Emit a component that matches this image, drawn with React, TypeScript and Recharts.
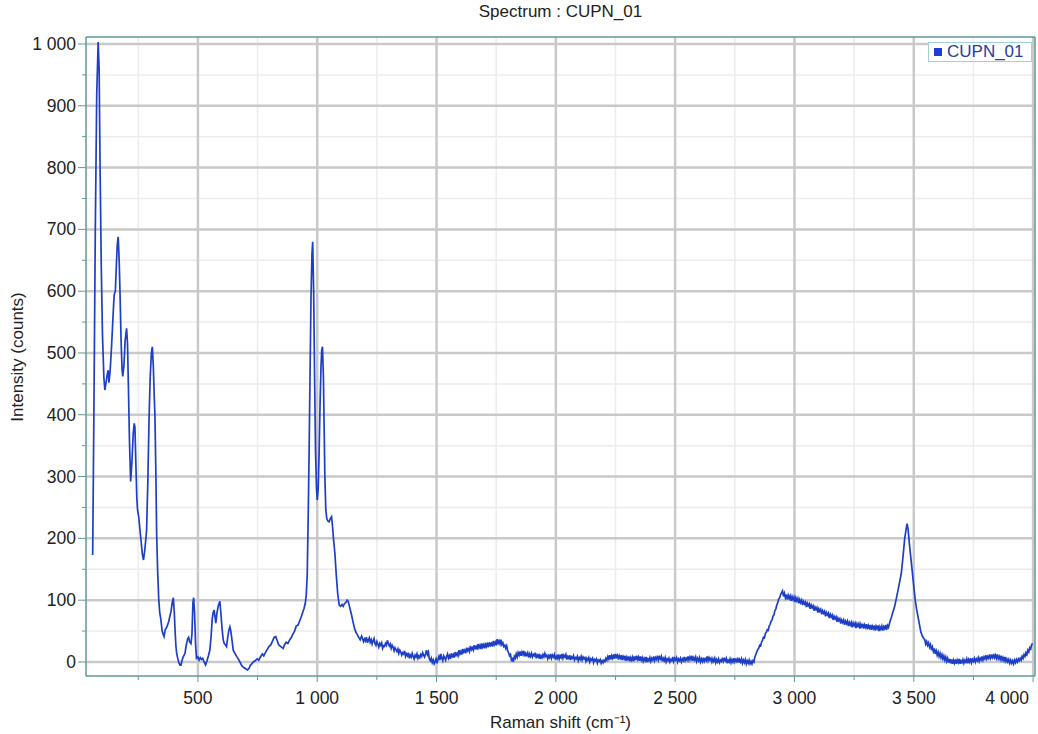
import React from "react";
import {
  LineChart,
  Line,
  XAxis,
  YAxis,
  CartesianGrid,
} from "recharts";

// Raman spectrum CUPN_01 : [shift cm-1, intensity counts]
const spectrum: [number, number][] = [
  [59, 173], [64, 400], [70, 700], [76, 920], [82, 1003], [86, 960], [90, 800], [95, 640],
  [100, 530], [106, 460], [110, 440], [115, 452], [120, 465], [124, 472], [127, 452], [132, 470],
  [138, 510], [145, 565], [149, 594], [154, 600], [158, 640], [162, 675], [166, 688], [170, 650],
  [174, 590], [178, 520], [182, 475], [185, 462], [190, 480], [195, 520], [201, 540], [205, 515],
  [209, 440], [213, 360], [218, 292], [223, 320], [229, 370], [233, 386], [236, 380], [240, 320],
  [244, 265], [247, 246], [252, 235], [257, 214], [262, 195], [267, 175], [272, 165], [277, 180],
  [282, 200], [285, 214], [290, 290], [295, 390], [300, 460], [305, 500], [309, 510], [313, 480],
  [317, 430], [320, 397], [324, 300], [327, 208], [331, 150], [336, 100], [340, 80], [345, 68],
  [350, 50], [355, 44], [358, 41], [363, 52], [368, 55], [373, 60], [378, 66], [383, 75],
  [387, 81], [392, 95], [397, 104], [401, 80], [405, 45], [408, 25], [411, 14], [416, 5],
  [421, -2], [425, -5], [429, -5], [433, 2], [438, 8], [442, 11], [446, 14], [450, 25],
  [454, 32], [457, 38], [461, 40], [465, 33], [471, 30], [475, 45], [479, 95], [482, 104],
  [486, 80], [490, 30], [494, 6], [500, 8], [505, 3], [510, 7], [515, 4], [520, 6],
  [526, 0], [532, -5], [538, 2], [544, 10], [550, 19], [555, 40], [560, 70], [564, 80],
  [568, 84], [572, 72], [575, 63], [580, 80], [586, 92], [592, 98], [596, 80], [601, 55],
  [606, 36], [610, 30], [615, 28], [620, 25], [625, 40], [630, 52], [634, 57], [638, 50],
  [643, 35], [648, 19], [655, 14], [662, 9], [669, 5], [676, 0], [684, -6], [692, -9],
  [700, -11], [708, -13], [715, -10], [720, -5], [726, -3], [732, 0], [740, 2], [748, 5],
  [755, 3], [762, 8], [770, 13], [776, 10], [781, 14], [790, 20], [798, 25], [806, 28],
  [814, 35], [820, 40], [826, 41], [832, 35], [838, 28], [844, 26], [850, 24], [857, 22],
  [863, 28], [870, 32], [877, 30], [885, 36], [892, 40], [899, 46], [905, 50], [912, 58],
  [920, 60], [926, 66], [932, 72], [939, 80], [945, 87], [950, 95], [954, 108], [958, 140],
  [962, 230], [966, 340], [970, 470], [974, 590], [978, 660], [981, 680], [985, 600], [989, 460],
  [993, 340], [997, 280], [1000, 262], [1004, 280], [1008, 340], [1012, 420], [1016, 480], [1019, 505],
  [1022, 510], [1026, 460], [1029, 380], [1032, 300], [1036, 246], [1040, 232], [1045, 228], [1050, 227],
  [1055, 232], [1060, 235], [1064, 220], [1068, 200], [1074, 176], [1080, 140], [1086, 110], [1092, 92],
  [1098, 90], [1104, 93], [1109, 90], [1115, 95], [1120, 96], [1125, 100], [1130, 98], [1135, 90],
  [1140, 82], [1144, 76], [1150, 65], [1156, 55], [1162, 48], [1167, 45], [1172, 41], [1180, 36],
  [1186, 42], [1190, 38], [1194, 33], [1198, 37], [1202, 34], [1206, 40], [1211, 31], [1214, 35],
  [1218, 39], [1222, 32], [1226, 36], [1230, 29], [1234, 34], [1238, 38], [1242, 30], [1246, 27],
  [1250, 33], [1254, 29], [1258, 24], [1262, 30], [1266, 27], [1270, 31], [1274, 22], [1278, 26],
  [1282, 25], [1286, 30], [1290, 27], [1294, 35], [1298, 30], [1302, 26], [1306, 29], [1310, 22],
  [1314, 27], [1318, 24], [1322, 18], [1326, 23], [1330, 20], [1334, 17], [1338, 21], [1342, 14],
  [1346, 19], [1350, 16], [1354, 11], [1358, 15], [1362, 13], [1366, 18], [1370, 9], [1374, 13],
  [1378, 10], [1382, 15], [1386, 6], [1390, 11], [1394, 8], [1398, 14], [1402, 9], [1406, 5],
  [1410, 11], [1414, 8], [1418, 13], [1422, 6], [1426, 10], [1430, 7], [1434, 12], [1438, 9],
  [1442, 15], [1446, 11], [1450, 8], [1454, 13], [1458, 19], [1462, 12], [1466, 16], [1470, 5],
  [1474, 2], [1478, 6], [1482, -1], [1486, 3], [1490, -3], [1494, 1], [1498, 5], [1502, -2],
  [1506, 4], [1510, 9], [1514, 3], [1518, 13], [1522, 6], [1526, 2], [1530, 10], [1534, 7],
  [1538, 3], [1542, 9], [1546, 13], [1550, 6], [1554, 10], [1558, 5], [1562, 14], [1566, 9],
  [1570, 12], [1574, 7], [1578, 16], [1582, 11], [1586, 14], [1590, 10], [1594, 19], [1598, 13],
  [1602, 17], [1606, 12], [1610, 21], [1614, 16], [1618, 19], [1622, 14], [1626, 23], [1630, 18],
  [1634, 21], [1638, 17], [1642, 26], [1646, 20], [1650, 23], [1654, 19], [1658, 27], [1662, 22],
  [1666, 25], [1670, 20], [1674, 29], [1678, 23], [1682, 27], [1686, 21], [1690, 30], [1694, 24],
  [1698, 28], [1702, 22], [1706, 31], [1710, 25], [1714, 29], [1718, 24], [1722, 32], [1726, 27],
  [1730, 30], [1734, 25], [1738, 34], [1742, 28], [1746, 32], [1750, 27], [1754, 37], [1758, 30],
  [1762, 34], [1766, 29], [1770, 36], [1774, 28], [1778, 31], [1782, 25], [1786, 27], [1790, 22],
  [1794, 26], [1798, 18], [1802, 15], [1806, 10], [1810, 12], [1814, 3], [1818, 5], [1822, 0],
  [1826, 9], [1830, 6], [1834, 13], [1838, 8], [1842, 15], [1846, 11], [1850, 17], [1854, 10],
  [1858, 16], [1862, 12], [1866, 18], [1870, 9], [1874, 14], [1878, 11], [1882, 15], [1886, 7],
  [1890, 13], [1894, 9], [1898, 14], [1902, 8], [1906, 12], [1910, 10], [1914, 15], [1918, 6],
  [1922, 11], [1926, 8], [1930, 13], [1934, 5], [1938, 10], [1942, 7], [1946, 12], [1950, 8],
  [1954, 14], [1958, 9], [1962, 11], [1966, 5], [1970, 10], [1974, 7], [1978, 13], [1982, 6],
  [1986, 11], [1990, 8], [1994, 12], [1998, 4], [2002, 9], [2006, 6], [2010, 12], [2014, 5],
  [2018, 10], [2022, 7], [2026, 13], [2030, 6], [2034, 11], [2038, 8], [2042, 12], [2046, 4],
  [2050, 9], [2054, 6], [2058, 11], [2062, 3], [2066, 8], [2070, 6], [2074, 10], [2078, 3],
  [2082, 7], [2086, 5], [2090, 9], [2094, 2], [2098, 7], [2102, 4], [2106, 9], [2110, 3],
  [2114, 8], [2118, 5], [2122, 7], [2126, 1], [2130, 6], [2134, 3], [2138, 7], [2142, 0],
  [2146, 5], [2150, 3], [2154, 6], [2158, -1], [2162, 4], [2166, 2], [2170, 5], [2174, -2],
  [2178, 3], [2182, 1], [2186, 4], [2190, -2], [2194, 2], [2198, -1], [2202, 3], [2206, 1],
  [2210, 6], [2214, 3], [2218, 9], [2222, 5], [2226, 11], [2230, 4], [2234, 10], [2238, 6],
  [2242, 12], [2246, 5], [2250, 13], [2254, 8], [2258, 11], [2262, 4], [2266, 10], [2270, 6],
  [2274, 11], [2278, 3], [2282, 9], [2286, 5], [2290, 10], [2294, 2], [2298, 8], [2302, 4],
  [2306, 9], [2310, 1], [2314, 7], [2318, 3], [2322, 8], [2326, 1], [2330, 9], [2334, 3],
  [2338, 10], [2342, 4], [2346, 8], [2350, 2], [2354, 9], [2358, 3], [2362, 7], [2366, 1],
  [2370, 6], [2374, 2], [2378, 8], [2382, 0], [2386, 5], [2390, 2], [2394, 7], [2398, 1],
  [2402, 6], [2406, 3], [2410, 9], [2414, 2], [2418, 7], [2422, 4], [2426, 10], [2430, 3],
  [2434, 8], [2438, 5], [2442, 9], [2446, 1], [2450, 6], [2454, 2], [2458, 7], [2462, 0],
  [2466, 5], [2470, 2], [2474, 6], [2478, 0], [2482, 4], [2486, 2], [2490, 8], [2494, 1],
  [2498, 6], [2502, 3], [2506, 7], [2510, 0], [2514, 5], [2518, 2], [2522, 6], [2526, 0],
  [2530, 5], [2534, 2], [2538, 8], [2542, 2], [2546, 6], [2550, 3], [2554, 9], [2558, 3],
  [2562, 8], [2566, 4], [2570, 10], [2574, 2], [2578, 7], [2582, 3], [2586, 8], [2590, 1],
  [2594, 6], [2598, 2], [2602, 7], [2606, 0], [2610, 5], [2614, 1], [2618, 7], [2622, 1],
  [2626, 5], [2630, 2], [2634, 9], [2638, 2], [2642, 7], [2646, 3], [2650, 6], [2654, 0],
  [2658, 5], [2662, 1], [2666, 6], [2670, -1], [2674, 4], [2678, 0], [2682, 5], [2686, -1],
  [2690, 3], [2694, 1], [2698, 7], [2702, 1], [2706, 5], [2710, 2], [2714, 6], [2718, -2],
  [2722, 3], [2726, 0], [2730, 5], [2734, -1], [2738, 4], [2742, 0], [2746, 6], [2750, 0],
  [2754, 4], [2758, 1], [2762, 7], [2766, -1], [2770, 4], [2774, 0], [2778, 5], [2782, -2],
  [2786, 3], [2790, -1], [2794, 4], [2798, -3], [2802, 2], [2806, -2], [2810, 3], [2814, -3],
  [2818, 1], [2822, -3], [2826, 2], [2830, 0], [2834, 8], [2838, 12], [2842, 16], [2846, 20],
  [2850, 22], [2854, 27], [2858, 26], [2862, 32], [2866, 35], [2870, 40], [2874, 39], [2878, 46],
  [2882, 48], [2886, 52], [2890, 51], [2894, 58], [2898, 61], [2902, 66], [2906, 68], [2910, 74],
  [2914, 76], [2918, 83], [2922, 86], [2926, 92], [2930, 96], [2934, 102], [2938, 104], [2942, 109],
  [2946, 112], [2950, 115], [2954, 106], [2958, 111], [2962, 104], [2966, 109], [2970, 101], [2974, 108],
  [2978, 103], [2982, 107], [2986, 99], [2990, 106], [2994, 101], [2998, 105], [3002, 97], [3006, 104],
  [3010, 99], [3014, 103], [3018, 95], [3022, 101], [3026, 96], [3030, 100], [3034, 92], [3038, 98],
  [3042, 94], [3046, 97], [3050, 89], [3054, 95], [3058, 91], [3062, 94], [3066, 86], [3070, 92],
  [3074, 88], [3078, 91], [3082, 83], [3086, 89], [3090, 85], [3094, 88], [3098, 80], [3102, 86],
  [3106, 82], [3110, 85], [3114, 77], [3118, 83], [3122, 79], [3126, 82], [3130, 74], [3134, 80],
  [3138, 76], [3142, 79], [3146, 71], [3150, 77], [3154, 73], [3158, 76], [3162, 68], [3166, 74],
  [3170, 70], [3174, 73], [3178, 65], [3182, 71], [3186, 67], [3190, 70], [3194, 62], [3198, 68],
  [3202, 64], [3206, 68], [3210, 60], [3214, 66], [3218, 62], [3222, 66], [3226, 58], [3230, 64],
  [3234, 60], [3238, 64], [3242, 56], [3246, 63], [3250, 59], [3254, 63], [3258, 55], [3262, 62],
  [3266, 58], [3270, 62], [3274, 54], [3278, 61], [3282, 57], [3286, 62], [3290, 54], [3294, 60],
  [3298, 56], [3302, 61], [3306, 53], [3310, 59], [3314, 55], [3318, 60], [3322, 52], [3326, 58],
  [3330, 54], [3334, 59], [3338, 51], [3342, 58], [3346, 54], [3350, 59], [3354, 50], [3358, 57],
  [3362, 53], [3366, 58], [3370, 51], [3374, 57], [3378, 54], [3382, 60], [3386, 52], [3390, 59],
  [3394, 56], [3400, 65], [3406, 72], [3412, 80], [3420, 90], [3428, 105], [3436, 120], [3442, 132],
  [3448, 144], [3456, 175], [3462, 200], [3468, 215], [3472, 224], [3476, 215], [3482, 190], [3490, 160],
  [3498, 130], [3506, 100], [3512, 85], [3518, 73], [3524, 60], [3530, 48], [3536, 42], [3542, 38],
  [3546, 36], [3550, 29], [3554, 33], [3558, 27], [3562, 31], [3566, 24], [3570, 28], [3574, 19],
  [3578, 24], [3582, 17], [3586, 22], [3590, 13], [3594, 18], [3598, 11], [3602, 16], [3606, 9],
  [3610, 14], [3614, 7], [3618, 12], [3622, 5], [3626, 10], [3630, 3], [3634, 8], [3638, 1],
  [3642, 6], [3646, -1], [3650, 5], [3654, -2], [3658, 4], [3662, -3], [3666, 3], [3670, -2],
  [3674, 4], [3678, -3], [3682, 3], [3686, -1], [3690, 5], [3694, -3], [3698, 2], [3702, -1],
  [3706, 4], [3710, -2], [3714, 3], [3718, 0], [3722, 5], [3726, -2], [3730, 4], [3734, 0],
  [3738, 6], [3742, -1], [3746, 4], [3750, 1], [3754, 6], [3758, 0], [3762, 5], [3766, 2],
  [3770, 7], [3774, 1], [3778, 6], [3782, 3], [3786, 9], [3790, 3], [3794, 8], [3798, 5],
  [3802, 11], [3806, 5], [3810, 9], [3814, 6], [3818, 12], [3822, 6], [3826, 10], [3830, 7],
  [3834, 13], [3838, 7], [3842, 11], [3846, 6], [3850, 12], [3854, 5], [3858, 9], [3862, 4],
  [3866, 10], [3870, 3], [3874, 7], [3878, 2], [3882, 8], [3886, 1], [3890, 5], [3894, 0],
  [3898, 4], [3902, -2], [3906, 3], [3910, -2], [3914, 2], [3918, -3], [3922, 3], [3926, -1],
  [3930, 4], [3934, 0], [3938, 5], [3942, 2], [3946, 6], [3950, 3], [3954, 9], [3958, 6],
  [3962, 12], [3966, 9], [3970, 15], [3974, 12], [3978, 19], [3982, 16], [3986, 23], [3990, 21],
  [3994, 28], [3998, 30],
];

const xMajor = [500, 1000, 1500, 2000, 2500, 3000, 3500, 4000];
const xMinor = [250, 750, 1250, 1750, 2250, 2750, 3250, 3750];
const yMajor = [0, 100, 200, 300, 400, 500, 600, 700, 800, 900, 1000];
const yMinor = [50, 150, 250, 350, 450, 550, 650, 750, 850, 950];

const seriesName = "CUPN_01";

const LINE = "#1d3fc6";
const AXIS = "#5f9898";
const FONT = "'Liberation Sans', Arial, sans-serif";

// "1 000" style, space as thousands separator
const fmt = (v: number) => String(v).replace(/\B(?=(\d{3})+(?!\d))/g, " ");

const YTick = (props: any) => {
  const { x, y, payload } = props;
  const major = payload.value % 100 === 0;
  return (
    <g>
      <line x1={x - (major ? 8 : 4)} x2={x} y1={y} y2={y} stroke={AXIS} strokeWidth={1} />
      {major && (
        <text x={x - 10} y={y + 6} textAnchor="end" fontSize={17.5} fill="#222" fontFamily={FONT}>
          {fmt(payload.value)}
        </text>
      )}
    </g>
  );
};

const XTick = (props: any) => {
  const { x, y, payload } = props;
  const major = payload.value % 500 === 0;
  // the last label is pulled inside the frame, as in the original
  const last = payload.value === xMajor[xMajor.length - 1];
  return (
    <g>
      <line x1={x} x2={x} y1={y} y2={y + (major ? 6 : 4)} stroke={AXIS} strokeWidth={1} />
      {major && (
        <text
          x={last ? x - 4 : x}
          y={y + 28}
          textAnchor={last ? "end" : "middle"}
          fontSize={17.5}
          fill="#222"
          fontFamily={FONT}
        >
          {fmt(payload.value)}
        </text>
      )}
    </g>
  );
};

export default function App() {
  const data = spectrum.map(([shift, counts]) => ({ shift, counts }));

  return (
    <div
      style={{
        position: "absolute",
        left: 0,
        top: 0,
        width: 1038,
        height: 734,
        background: "#fff",
        fontFamily: FONT,
      }}
    >
      {/* title */}
      <div
        style={{
          position: "absolute",
          top: 2,
          left: 86,
          width: 949,
          textAlign: "center",
          fontSize: 17,
          color: "#222",
        }}
      >
        Spectrum : CUPN_01
      </div>

      <LineChart
        width={1038}
        height={734}
        data={data}
        margin={{ top: 36, right: 2, bottom: 0, left: 0 }}
      >
        <CartesianGrid
          stroke="#ececec"
          strokeWidth={1.5}
          horizontalValues={yMinor}
          verticalValues={xMinor}
        />
        <CartesianGrid
          stroke="#c9c9c9"
          strokeWidth={2.5}
          horizontalValues={yMajor}
          verticalValues={xMajor}
        />
        <XAxis
          dataKey="shift"
          type="number"
          domain={[31, 4008]}
          ticks={[...xMinor, ...xMajor].sort((a, b) => a - b)}
          allowDataOverflow
          height={58}
          tickSize={0}
          tickMargin={0}
          tickLine={false}
          axisLine={{ stroke: AXIS, strokeWidth: 1.5 }}
          tick={<XTick />}
          interval={0}
        />
        <XAxis
          xAxisId="top"
          orientation="top"
          dataKey="shift"
          type="number"
          domain={[31, 4008]}
          allowDataOverflow
          height={1}
          tick={false}
          tickLine={false}
          axisLine={{ stroke: AXIS, strokeWidth: 1.5 }}
        />
        <YAxis
          type="number"
          domain={[-22.7, 1011.3]}
          ticks={[...yMinor, ...yMajor].sort((a, b) => a - b)}
          allowDataOverflow
          width={86}
          tickSize={0}
          tickMargin={0}
          tickLine={false}
          axisLine={{ stroke: AXIS, strokeWidth: 1.5 }}
          tick={<YTick />}
          interval={0}
        />
        <YAxis
          yAxisId="right"
          orientation="right"
          type="number"
          domain={[-22.7, 1011.3]}
          allowDataOverflow
          width={1}
          tick={false}
          tickLine={false}
          axisLine={{ stroke: AXIS, strokeWidth: 1.5 }}
        />
        <Line
          type="linear"
          dataKey="counts"
          name={seriesName}
          stroke={LINE}
          strokeWidth={1.7}
          dot={false}
          isAnimationActive={false}
        />
      </LineChart>

      {/* legend */}
      <div
        style={{
          position: "absolute",
          left: 928,
          top: 42,
          width: 104,
          height: 20,
          border: "1px solid #9fd2dc",
          background: "#fff",
          display: "flex",
          alignItems: "center",
          fontSize: 17,
          color: "#23409e",
          boxSizing: "border-box",
          paddingLeft: 5,
        }}
      >
        <span
          style={{
            display: "inline-block",
            width: 8,
            height: 8,
            background: "#1d3fd6",
            marginRight: 5,
          }}
        />
        {seriesName}
      </div>

      {/* axis titles */}
      <div
        style={{
          position: "absolute",
          left: 86,
          width: 949,
          top: 710,
          textAlign: "center",
          fontSize: 17,
          color: "#222",
        }}
      >
        Raman shift (cm⁻¹)
      </div>
      <div
        style={{
          position: "absolute",
          left: 18,
          top: 357,
          transform: "translate(-50%, -50%) rotate(-90deg)",
          whiteSpace: "nowrap",
          fontSize: 17,
          color: "#222",
        }}
      >
        Intensity (counts)
      </div>
    </div>
  );
}
